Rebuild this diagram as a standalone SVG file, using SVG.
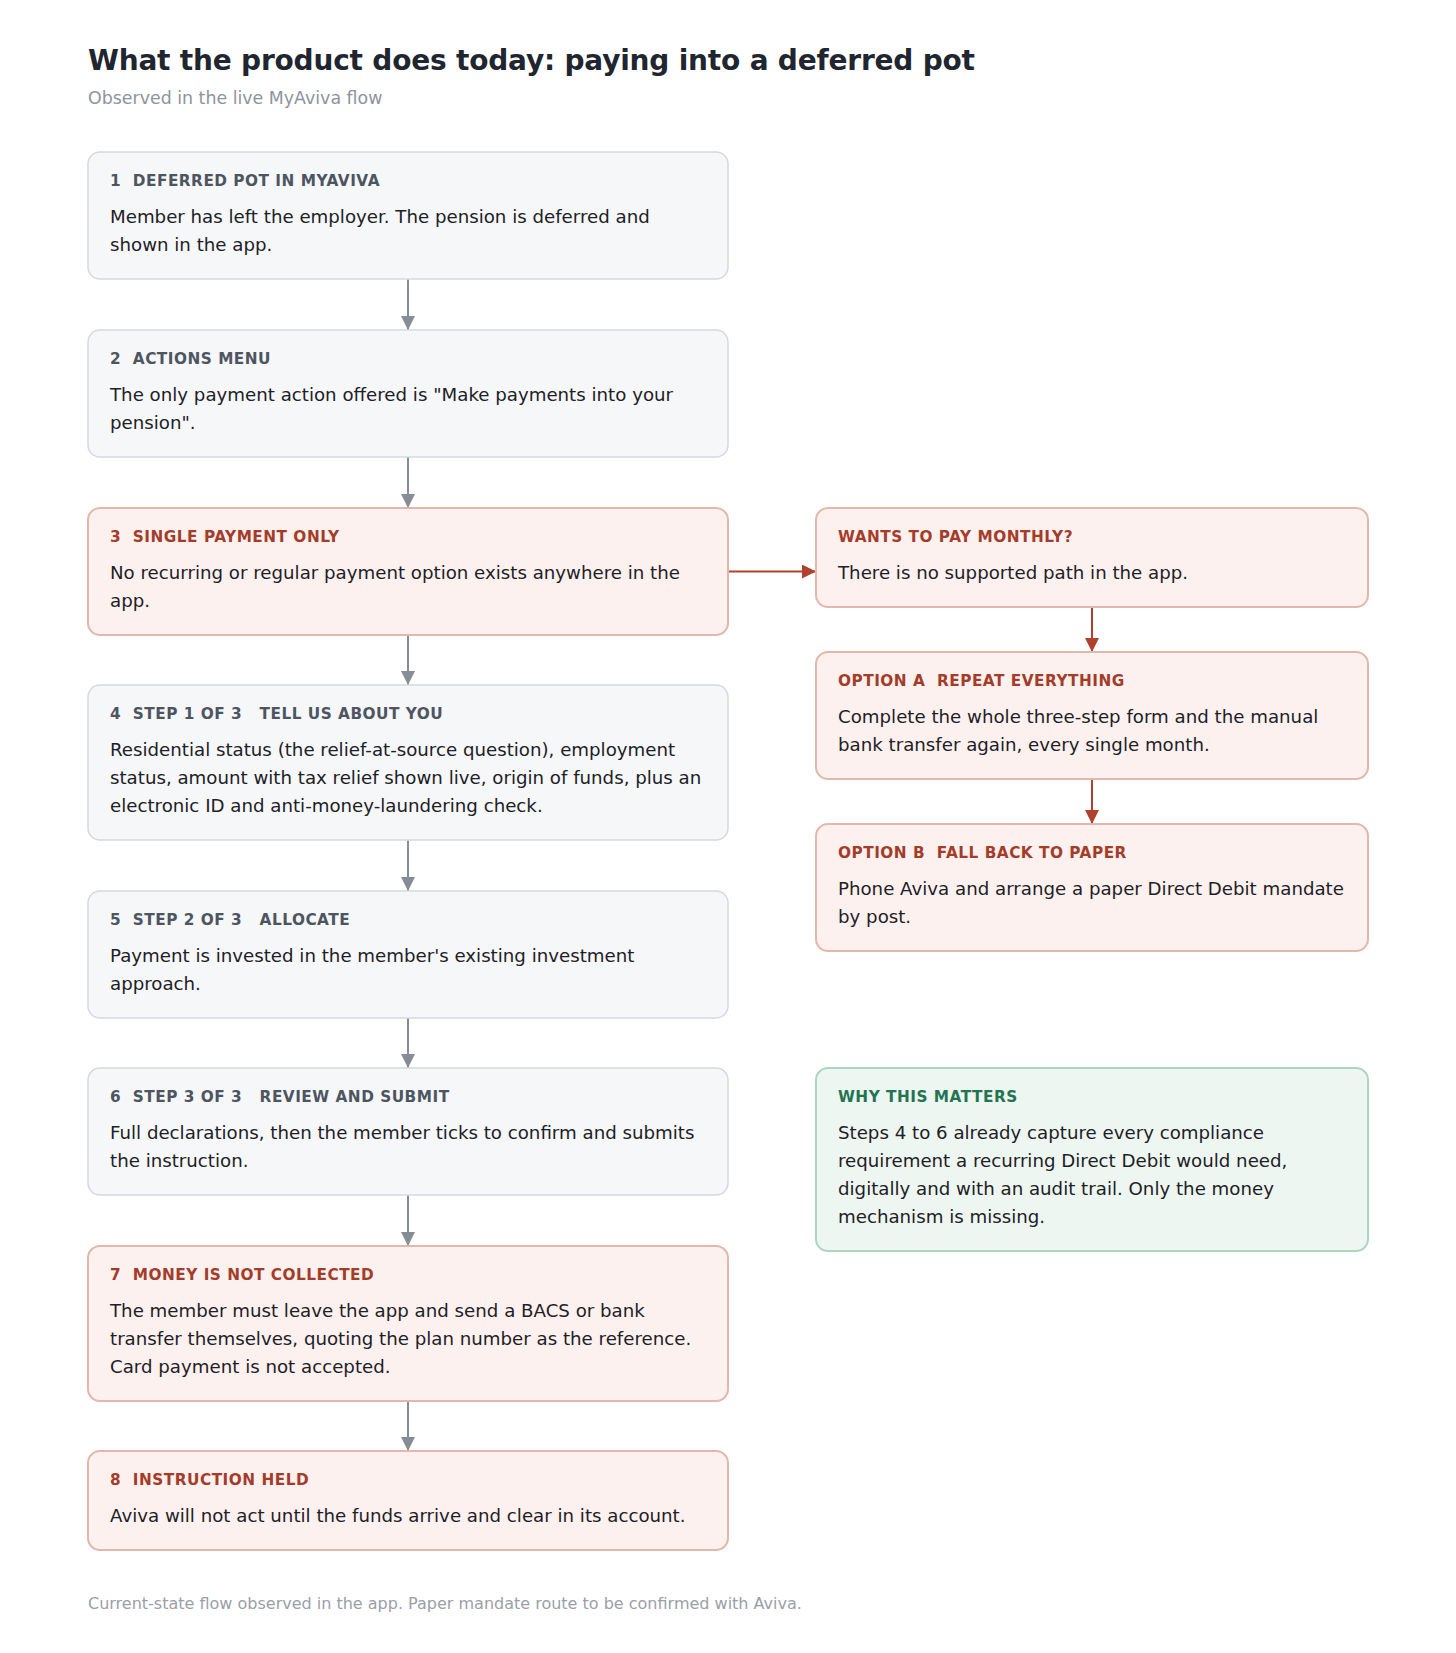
<svg xmlns="http://www.w3.org/2000/svg" width="1456" height="1653" viewBox="0 0 1456 1653">
<style>
text { font-family: "DejaVu Sans", "Liberation Sans", sans-serif; white-space: pre; }
.title { font-size: 28px; font-weight: bold; fill: #1f2630; letter-spacing: -0.2px; }
.sub { font-size: 17.4px; fill: #8e949c; }
.foot { font-size: 16px; fill: #9aa0a6; }
.hd { font-size: 15.3px; font-weight: bold; letter-spacing: 0.5px; }
.body { font-size: 18.2px; fill: #1d2126; }
.g rect { fill: #f6f7f9; stroke: #d5d9de; stroke-width: 1.5; }
.g .hd { fill: #4d5561; }
.r rect { fill: #fdf1ef; stroke: #e2b7ad; stroke-width: 2; }
.r .hd { fill: #a43c2a; }
.k rect { fill: #eef6f1; stroke: #acd6c2; stroke-width: 2; }
.k .hd { fill: #237552; }
.cg { stroke: #878d95; stroke-width: 2; fill: none; }
.cr { stroke: #b1412f; stroke-width: 2; fill: none; }
</style>
<defs>
<marker id="ag" markerUnits="userSpaceOnUse" markerWidth="14" markerHeight="14" refX="14" refY="7" orient="auto">
<path d="M0,0 L14,7 L0,14 z" fill="#878d95"/>
</marker>
<marker id="ar" markerUnits="userSpaceOnUse" markerWidth="14" markerHeight="14" refX="14" refY="7" orient="auto">
<path d="M0,0 L14,7 L0,14 z" fill="#b1412f"/>
</marker>
</defs>
<rect width="1456" height="1653" fill="#ffffff"/>
<text class="title" x="88" y="69.5">What the product does today: paying into a deferred pot</text>
<text class="sub" x="88" y="103.5">Observed in the live MyAviva flow</text>

<g id="connectors">
<line class="cg" x1="408" y1="279" x2="408" y2="330" marker-end="url(#ag)"/>
<line class="cg" x1="408" y1="457" x2="408" y2="508" marker-end="url(#ag)"/>
<line class="cg" x1="408" y1="635" x2="408" y2="685" marker-end="url(#ag)"/>
<line class="cg" x1="408" y1="840" x2="408" y2="891" marker-end="url(#ag)"/>
<line class="cg" x1="408" y1="1018" x2="408" y2="1068" marker-end="url(#ag)"/>
<line class="cg" x1="408" y1="1195" x2="408" y2="1246" marker-end="url(#ag)"/>
<line class="cg" x1="408" y1="1401" x2="408" y2="1451" marker-end="url(#ag)"/>
<line class="cr" x1="728" y1="571.5" x2="816" y2="571.5" marker-end="url(#ar)"/>
<line class="cr" x1="1092" y1="607" x2="1092" y2="652" marker-end="url(#ar)"/>
<line class="cr" x1="1092" y1="779" x2="1092" y2="824" marker-end="url(#ar)"/>
</g>

<g id="n1" class="g">
<rect x="88" y="152" width="640" height="127" rx="12"/>
<text class="hd" x="110" y="186">1  DEFERRED POT IN MYAVIVA</text>
<text class="body" x="110" y="223">Member has left the employer. The pension is deferred and</text>
<text class="body" x="110" y="251">shown in the app.</text>
</g>
<g id="n2" class="g">
<rect x="88" y="330" width="640" height="127" rx="12"/>
<text class="hd" x="110" y="364">2  ACTIONS MENU</text>
<text class="body" x="110" y="401">The only payment action offered is "Make payments into your</text>
<text class="body" x="110" y="429">pension".</text>
</g>
<g id="n3" class="r">
<rect x="88" y="508" width="640" height="127" rx="12"/>
<text class="hd" x="110" y="542">3  SINGLE PAYMENT ONLY</text>
<text class="body" x="110" y="579">No recurring or regular payment option exists anywhere in the</text>
<text class="body" x="110" y="607">app.</text>
</g>
<g id="n4" class="g">
<rect x="88" y="685" width="640" height="155" rx="12"/>
<text class="hd" x="110" y="719">4  STEP 1 OF 3   TELL US ABOUT YOU</text>
<text class="body" x="110" y="756">Residential status (the relief-at-source question), employment</text>
<text class="body" x="110" y="784">status, amount with tax relief shown live, origin of funds, plus an</text>
<text class="body" x="110" y="812">electronic ID and anti-money-laundering check.</text>
</g>
<g id="n5" class="g">
<rect x="88" y="891" width="640" height="127" rx="12"/>
<text class="hd" x="110" y="925">5  STEP 2 OF 3   ALLOCATE</text>
<text class="body" x="110" y="962">Payment is invested in the member's existing investment</text>
<text class="body" x="110" y="990">approach.</text>
</g>
<g id="n6" class="g">
<rect x="88" y="1068" width="640" height="127" rx="12"/>
<text class="hd" x="110" y="1102">6  STEP 3 OF 3   REVIEW AND SUBMIT</text>
<text class="body" x="110" y="1139">Full declarations, then the member ticks to confirm and submits</text>
<text class="body" x="110" y="1167">the instruction.</text>
</g>
<g id="n7" class="r">
<rect x="88" y="1246" width="640" height="155" rx="12"/>
<text class="hd" x="110" y="1280">7  MONEY IS NOT COLLECTED</text>
<text class="body" x="110" y="1317">The member must leave the app and send a BACS or bank</text>
<text class="body" x="110" y="1345">transfer themselves, quoting the plan number as the reference.</text>
<text class="body" x="110" y="1373">Card payment is not accepted.</text>
</g>
<g id="n8" class="r">
<rect x="88" y="1451" width="640" height="99" rx="12"/>
<text class="hd" x="110" y="1485">8  INSTRUCTION HELD</text>
<text class="body" x="110" y="1522">Aviva will not act until the funds arrive and clear in its account.</text>
</g>

<g id="monthly" class="r">
<rect x="816" y="508" width="552" height="99" rx="12"/>
<text class="hd" x="838" y="542">WANTS TO PAY MONTHLY?</text>
<text class="body" x="838" y="579">There is no supported path in the app.</text>
</g>
<g id="optionA" class="r">
<rect x="816" y="652" width="552" height="127" rx="12"/>
<text class="hd" x="838" y="686">OPTION A  REPEAT EVERYTHING</text>
<text class="body" x="838" y="723">Complete the whole three-step form and the manual</text>
<text class="body" x="838" y="751">bank transfer again, every single month.</text>
</g>
<g id="optionB" class="r">
<rect x="816" y="824" width="552" height="127" rx="12"/>
<text class="hd" x="838" y="858">OPTION B  FALL BACK TO PAPER</text>
<text class="body" x="838" y="895">Phone Aviva and arrange a paper Direct Debit mandate</text>
<text class="body" x="838" y="923">by post.</text>
</g>
<g id="why" class="k">
<rect x="816" y="1068" width="552" height="183" rx="12"/>
<text class="hd" x="838" y="1102">WHY THIS MATTERS</text>
<text class="body" x="838" y="1139">Steps 4 to 6 already capture every compliance</text>
<text class="body" x="838" y="1167">requirement a recurring Direct Debit would need,</text>
<text class="body" x="838" y="1195">digitally and with an audit trail. Only the money</text>
<text class="body" x="838" y="1223">mechanism is missing.</text>
</g>

<text class="foot" x="88" y="1609">Current-state flow observed in the app. Paper mandate route to be confirmed with Aviva.</text>
</svg>
